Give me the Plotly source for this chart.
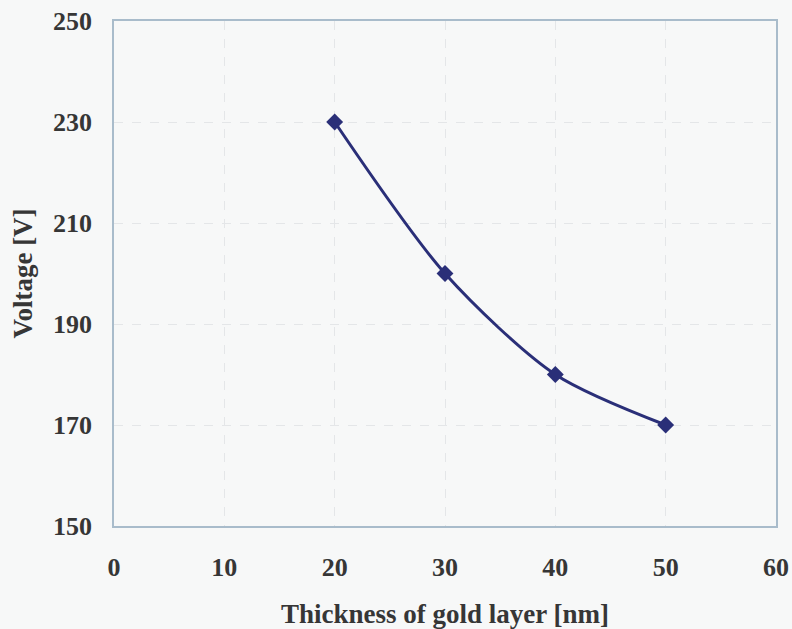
import plotly.graph_objects as go

# Breakdown voltage versus gold layer thickness
thickness_nm = [20, 30, 40, 50]
voltage_v = [230, 200, 180, 170]

x_ticks = [0, 10, 20, 30, 40, 50, 60]
y_ticks = [150, 170, 190, 210, 230, 250]

line_color = "#2a2f78"
text_color = "#363636"
font_family = "Liberation Serif, Times New Roman, serif"

fig = go.Figure(
    go.Scatter(
        x=thickness_nm,
        y=voltage_v,
        mode="lines+markers",
        line=dict(color=line_color, width=3, shape="spline", smoothing=0.8),
        marker=dict(symbol="diamond", size=13, color=line_color),
        showlegend=False,
    )
)

axis_common = dict(
    showgrid=True,
    gridcolor="#e4e6e8",
    griddash="dash",
    gridwidth=1,
    showline=True,
    linecolor="#a9bccb",
    linewidth=1.5,
    mirror=True,
    zeroline=False,
    ticks="",
    automargin=False,
    tickfont=dict(family=font_family, size=26, color=text_color, weight="bold"),
)

fig.update_xaxes(
    range=[0, 60],
    tickvals=x_ticks,
    ticklabelstandoff=17,
    title=dict(text="<b>Thickness of gold layer [nm]</b>",
               font=dict(family=font_family, size=27, color=text_color),
               standoff=28),
    **axis_common,
)
fig.update_yaxes(
    range=[150, 250],
    tickvals=y_ticks,
    ticklabelstandoff=15,
    title=dict(text="<b>Voltage [V]</b>",
               font=dict(family=font_family, size=27, color=text_color),
               standoff=13),
    **axis_common,
)

fig.update_layout(
    width=792,
    height=629,
    margin=dict(l=114, r=16, t=21, b=103),
    paper_bgcolor="#f7f8f8",
    plot_bgcolor="#f7f8f8",
)

fig.write_html("out.html")
